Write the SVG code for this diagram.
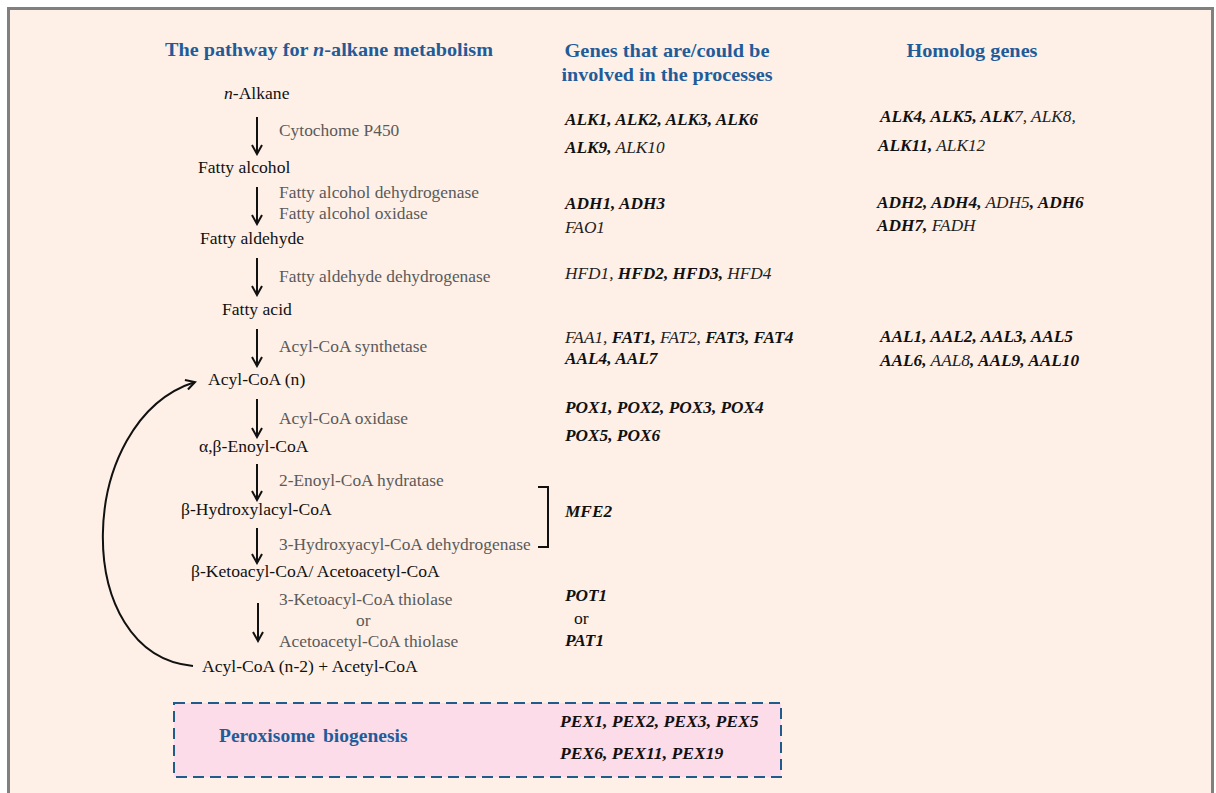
<svg xmlns="http://www.w3.org/2000/svg" width="1216" height="793" viewBox="0 0 1216 793" font-family="'Liberation Serif', 'Times New Roman', serif">
<defs>
<style>
.title{font-family:'Liberation Serif','Times New Roman',serif;font-size:19px;font-weight:bold;fill:#1F5C99;}
.node{font-family:'Liberation Serif','Times New Roman',serif;font-size:17.6px;fill:#111;}
.enz{font-family:'Liberation Serif','Times New Roman',serif;font-size:17.4px;fill:#5a5a5a;}
.gene{font-family:'Liberation Serif','Times New Roman',serif;font-size:17.3px;font-style:italic;fill:#222;}
.b{font-weight:bold;fill:#111;}
.conn{stroke:#111;stroke-width:2;fill:none;}
</style>
<marker id="ah" viewBox="0 0 12 12" refX="10" refY="6" markerWidth="12" markerHeight="12" markerUnits="userSpaceOnUse" orient="auto">
<path d="M1,1 L10,6 L1,11" fill="none" stroke="#111" stroke-width="2"/>
</marker>
</defs>
<rect x="0" y="0" width="1216" height="793" fill="#ffffff"/>
<rect x="8.5" y="8.5" width="1204" height="800" fill="#FEF0E7" stroke="#808080" stroke-width="3"/>

<g id="headers">
<text class="title" x="329" y="56" text-anchor="middle" textLength="328" lengthAdjust="spacingAndGlyphs">The pathway for <tspan font-style="italic">n</tspan>-alkane metabolism</text>
<text class="title" x="667" y="57" text-anchor="middle" textLength="205" lengthAdjust="spacingAndGlyphs">Genes that are/could be</text>
<text class="title" x="667" y="81" text-anchor="middle" textLength="211" lengthAdjust="spacingAndGlyphs">involved in the processes</text>
<text class="title" x="972" y="57" text-anchor="middle" textLength="131" lengthAdjust="spacingAndGlyphs">Homolog genes</text>
</g>

<g id="connectors">
<line class="conn" x1="257" y1="117" x2="257" y2="154" marker-end="url(#ah)"/>
<line class="conn" x1="257" y1="187" x2="257" y2="224" marker-end="url(#ah)"/>
<line class="conn" x1="257" y1="258" x2="257" y2="295" marker-end="url(#ah)"/>
<line class="conn" x1="257" y1="329" x2="257" y2="366" marker-end="url(#ah)"/>
<line class="conn" x1="257" y1="399" x2="257" y2="437" marker-end="url(#ah)"/>
<line class="conn" x1="257" y1="464" x2="257" y2="500" marker-end="url(#ah)"/>
<line class="conn" x1="257" y1="528" x2="257" y2="563" marker-end="url(#ah)"/>
<line class="conn" x1="258" y1="603" x2="258" y2="641" marker-end="url(#ah)"/>
<path class="conn" d="M193,666 C70,655 75,420 195,382" marker-end="url(#ah)"/>
<path d="M538,487 L548,487 L548,547 L538,547" fill="none" stroke="#111" stroke-width="2"/>
</g>

<g id="n-alkane"><text class="node" x="224" y="99"><tspan font-style="italic">n</tspan>-Alkane</text></g>
<g id="fatty-alcohol"><text class="node" x="198" y="173">Fatty alcohol</text></g>
<g id="fatty-aldehyde"><text class="node" x="200" y="244">Fatty aldehyde</text></g>
<g id="fatty-acid"><text class="node" x="222" y="315">Fatty acid</text></g>
<g id="acyl-coa-n"><text class="node" x="208" y="385">Acyl-CoA (n)</text></g>
<g id="enoyl-coa"><text class="node" x="199" y="452">α,β-Enoyl-CoA</text></g>
<g id="hydroxyacyl-coa"><text class="node" x="181" y="515">β-Hydroxylacyl-CoA</text></g>
<g id="ketoacyl-coa"><text class="node" x="191" y="577">β-Ketoacyl-CoA/ Acetoacetyl-CoA</text></g>
<g id="acyl-coa-n2"><text class="node" x="202" y="672">Acyl-CoA (n-2) + Acetyl-CoA</text></g>

<g id="enzymes">
<text class="enz" x="279" y="136">Cytochome P450</text>
<text class="enz" x="279" y="198">Fatty alcohol dehydrogenase</text>
<text class="enz" x="279" y="219">Fatty alcohol oxidase</text>
<text class="enz" x="279" y="282">Fatty aldehyde dehydrogenase</text>
<text class="enz" x="279" y="352">Acyl-CoA synthetase</text>
<text class="enz" x="279" y="424">Acyl-CoA oxidase</text>
<text class="enz" x="279" y="486">2-Enoyl-CoA hydratase</text>
<text class="enz" x="279" y="550">3-Hydroxyacyl-CoA dehydrogenase</text>
<text class="enz" x="279" y="605">3-Ketoacyl-CoA thiolase</text>
<text class="enz" x="356" y="626">or</text>
<text class="enz" x="279" y="647">Acetoacetyl-CoA thiolase</text>
</g>

<g id="genes">
<text class="gene" x="565" y="125"><tspan class="b">ALK1, ALK2, ALK3, ALK6</tspan></text>
<text class="gene" x="565" y="153"><tspan class="b">ALK9,</tspan> ALK10</text>
<text class="gene" x="565" y="209"><tspan class="b">ADH1,  ADH3</tspan></text>
<text class="gene" x="565" y="233">FAO1</text>
<text class="gene" x="565" y="279">HFD1, <tspan class="b">HFD2, HFD3,</tspan> HFD4</text>
<text class="gene" x="565" y="343">FAA1,  <tspan class="b">FAT1,</tspan> FAT2,  <tspan class="b">FAT3, FAT4</tspan></text>
<text class="gene" x="565" y="364"><tspan class="b">AAL4, AAL7</tspan></text>
<text class="gene" x="565" y="413"><tspan class="b">POX1, POX2, POX3, POX4</tspan></text>
<text class="gene" x="565" y="441"><tspan class="b">POX5, POX6</tspan></text>
<text class="gene" x="565" y="517"><tspan class="b">MFE2</tspan></text>
<text class="gene" x="565" y="601"><tspan class="b">POT1</tspan></text>
<text class="node" x="574" y="624">or</text>
<text class="gene" x="565" y="646"><tspan class="b">PAT1</tspan></text>
</g>

<g id="homologs">
<text class="gene" x="880" y="122"><tspan class="b">ALK4, ALK5, ALK</tspan>7, ALK8,</text>
<text class="gene" x="878" y="151"><tspan class="b">ALK11,</tspan> ALK12</text>
<text class="gene" x="877" y="208"><tspan class="b">ADH2,  ADH4,</tspan> ADH5<tspan class="b">, ADH6</tspan></text>
<text class="gene" x="877" y="231"><tspan class="b">ADH7,</tspan> FADH</text>
<text class="gene" x="880" y="342"><tspan class="b">AAL1, AAL2, AAL3, AAL5</tspan></text>
<text class="gene" x="880" y="366"><tspan class="b">AAL6,</tspan> AAL8<tspan class="b">, AAL9, AAL10</tspan></text>
</g>

<g id="peroxisome">
<rect x="174" y="703" width="607" height="74" fill="#FCDCE8" stroke="#1F5C8C" stroke-width="2" stroke-dasharray="11,6"/>
<text class="title" x="219" y="742" style="font-size:19.5px">Peroxisome<tspan x="323">biogenesis</tspan></text>
<text class="gene" x="560" y="727" style="font-size:17.6px"><tspan class="b">PEX1, PEX2, PEX3, PEX5</tspan></text>
<text class="gene" x="560" y="759" style="font-size:17.6px"><tspan class="b">PEX6, PEX11, PEX19</tspan></text>
</g>
</svg>
